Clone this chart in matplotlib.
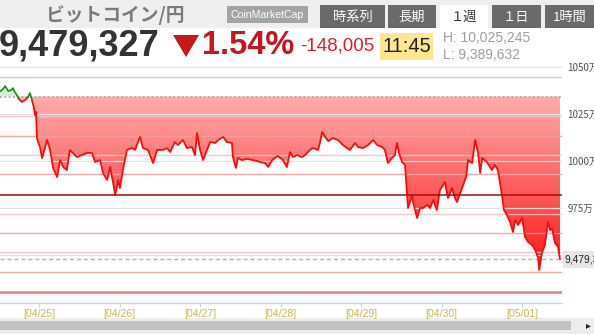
import matplotlib
matplotlib.use("Agg")
import matplotlib.pyplot as plt
import numpy as np
from matplotlib.patches import Rectangle, Polygon

# ---------------- data (price in 万円, time in hours from 04/25 00:00) ----------------
hours = [-11.6, -10.7, -10.1, -9.2, -8.3, -7.8, -7.2, -6.6, -6.0, -5.1, -4.2, -3.3, -2.7, -2.1,
         -1.5, -1.2, -0.9, -0.6, -0.3, 0.3, 0.9, 1.2, 2.4, 3.3, 4.2, 5.4, 6.3, 7.2, 8.3, 9.2,
         10.1, 11.3, 12.8, 14.3, 15.8, 16.7, 18.2, 19.1, 20.3, 21.2, 22.1, 22.7, 23.6, 24.1,
         25.0, 26.2, 27.7, 28.6, 29.5, 30.1, 31.0, 32.5, 34.0, 35.2, 37.0, 38.2, 39.1, 40.5,
         41.4, 42.9, 44.1, 45.6, 46.5, 47.1, 48.0, 48.9, 50.1, 51.0, 52.5, 53.4, 54.9, 56.0,
         57.5, 57.8, 58.7, 59.3, 60.5, 62.0, 63.8, 65.9, 67.4, 68.3, 69.5, 71.2, 72.7, 73.9,
         74.8, 75.7, 76.9, 78.4, 79.3, 80.8, 81.7, 83.2, 83.8, 84.4, 85.3, 86.2, 87.6, 89.1,
         90.6, 91.8, 92.7, 94.2, 95.1, 96.6, 98.1, 99.6, 100.8, 102.3, 103.1, 104.0, 105.2,
         106.1, 106.7, 107.3, 108.2, 109.1, 109.7, 110.0, 111.2, 111.5, 112.7, 113.6, 114.5,
         115.7, 116.6, 117.5, 118.6, 119.5, 121.0, 121.9, 123.1, 124.0, 124.6, 126.1, 127.3,
         127.9, 129.1, 130.0, 130.9, 131.5, 132.1, 133.5, 135.0, 135.9, 136.8, 138.0, 138.6,
         139.5, 140.4, 141.3, 141.9, 142.8, 144.0, 144.9, 145.8, 147.0, 147.9, 148.8, 149.1,
         149.9, 150.8, 151.7, 152.3, 152.9, 153.8, 154.7, 155.3]
price = [1037.0, 1038.3, 1039.9, 1037.2, 1037.8, 1038.8, 1036.7, 1035.1, 1033.0, 1031.4, 1032.4,
         1034.0, 1036.2, 1032.4, 1028.2, 1024.5, 1026.1, 1012.2, 1010.1, 1007.4, 1001.6, 1003.2,
         1011.2, 1005.9, 996.3, 991.5, 1000.5, 996.8, 995.2, 1005.9, 1004.3, 1002.1, 1003.2,
         1004.3, 1004.3, 999.5, 1000.5, 993.6, 989.9, 996.8, 988.3, 981.9, 989.9, 985.6, 995.2,
         1005.9, 1006.9, 1005.9, 1010.1, 1012.8, 1006.9, 1005.9, 998.9, 1005.9, 1005.9, 1006.9,
         1004.8, 1010.1, 1008.5, 1011.2, 1006.9, 1007.4, 1003.2, 1014.9, 1005.9, 1000.5, 1005.9,
         1010.1, 1009.6, 1011.2, 1012.8, 1010.1, 1009.6, 1002.1, 996.3, 1001.6, 1000.5, 1001.1,
         1000.5, 999.5, 998.9, 996.8, 1000.5, 1002.7, 1000.5, 996.8, 1004.8, 1002.1, 1003.2,
         1002.1, 1003.2, 1005.9, 1006.9, 1005.9, 1010.1, 1015.4, 1012.8, 1010.6, 1012.2, 1011.2,
         1008.5, 1006.9, 1005.9, 1009.6, 1007.4, 1006.9, 1008.5, 1011.2, 1008.5, 1007.4, 1005.9,
         998.9, 1001.6, 1003.2, 1009.6, 1004.3, 999.5, 997.9, 983.0, 975.0, 981.9, 978.2, 969.7,
         975.0, 975.0, 976.6, 975.0, 979.3, 973.9, 984.6, 988.8, 980.3, 985.6, 980.3, 978.2,
         985.6, 991.5, 1000.5, 998.9, 1011.2, 1004.3, 993.6, 1001.6, 999.5, 995.2, 997.9, 995.2,
         981.9, 973.9, 971.3, 967.6, 962.2, 968.6, 966.0, 969.7, 959.6, 956.9, 955.3, 952.7,
         948.4, 942.0, 951.1, 955.3, 967.6, 963.3, 964.4, 956.4, 954.3, 947.9]

baseline = 1034.3
current = 947.9327
green_level = 1044.7
dark_level = 981.9
level_lines = [1023.9, 1013.3, 1003.2, 993.1, 971.8, 961.7, 951.6, 941.0]
red_level = 930.3
grid_ticks = [1050, 1025, 1000, 975, 950]
ytick_labels = ["1050万", "1025万", "1000万", "975万", ""]
day_ticks = [0, 24, 48, 72, 96, 120, 144]
day_labels = ["[04/25]", "[04/26]", "[04/27]", "[04/28]", "[04/29]", "[04/30]", "[05/01]"]

title = "ビットコイン/円"
price_text = "9,479,327"
change_pct = "1.54%"
change_abs = "-148,005"
time_text = "11:45"
high_text = "H: 10,025,245"
low_text = "L: 9,389,632"
tabs = ["時系列", "長期", "１週", "１日", "1時間"]

# ---------------- figure ----------------
W, H = 594, 334
fig = plt.figure(figsize=(W / 100, H / 100), dpi=100)
fig.patch.set_facecolor("white")

def fx(x):
    return x / W

def fy(y):
    return 1 - y / H

JP = ["Noto Sans CJK JP", "DejaVu Sans"]
AR = ["Liberation Sans", "DejaVu Sans"]

# top bar
fig.patches.append(Rectangle((0, fy(28)), 1, 28 / H, transform=fig.transFigure,
                             facecolor="#efefef", edgecolor="none", zorder=0))
fig.text(fx(115), fy(15), title, family=JP, fontsize=13.5, color="#7b7b7b",
         ha="center", va="center", weight="bold")
fig.patches.append(Rectangle((fx(227), fy(23)), 81 / W, 17 / H, transform=fig.transFigure,
                             facecolor="#a4a4a4", edgecolor="none"))
fig.text(fx(267.5), fy(14.5), "CoinMarketCap", family=AR, fontsize=7.6, color="white",
         ha="center", va="center")
tab_pos = [(320, 385), (388, 436), (440, 488), (492, 541), (545, 594)]
for (x0, x1), tb in zip(tab_pos, tabs):
    sel = tb == "１週"
    fig.patches.append(Rectangle((fx(x0), fy(28)), (x1 - x0) / W, 23 / H, transform=fig.transFigure,
                                 facecolor="white" if sel else "#6a6a6a", edgecolor="none"))
    fig.text(fx((x0 + x1) / 2), fy(17), tb, family=JP, fontsize=9.5,
             color="#333333" if sel else "white", ha="center", va="center")

# price row
fig.text(fx(-1), fy(46), price_text, family=AR, fontsize=26, weight="bold", color="#333333",
         ha="left", va="center")
fig.patches.append(Polygon([(fx(173), fy(35)), (fx(199), fy(35)), (fx(186), fy(57))],
                           closed=True, transform=fig.transFigure,
                           facecolor="#c8161d", edgecolor="none"))
fig.text(fx(202), fy(46), change_pct, family=AR, fontsize=23.5, weight="bold", color="#c8161d",
         ha="left", va="center")
fig.text(fx(300), fy(46), change_abs, family=AR, fontsize=13.5, color="#d9232b",
         ha="left", va="center")
fig.patches.append(Rectangle((fx(380), fy(60)), 53 / W, 27 / H, transform=fig.transFigure,
                             facecolor="#fbe78f", edgecolor="none"))
fig.text(fx(406.5), fy(46.5), time_text, family=AR, fontsize=14.5, color="#222222",
         ha="center", va="center")
fig.text(fx(443), fy(38), high_text, family=AR, fontsize=10, color="#a0a0a0", ha="left", va="center")
fig.text(fx(443), fy(55), low_text, family=AR, fontsize=10, color="#a0a0a0", ha="left", va="center")

# scrollbar
fig.patches.append(Rectangle((0, 0), 1, 16 / H, transform=fig.transFigure,
                             facecolor="#ededed", edgecolor="none", zorder=0))
fig.patches.append(Rectangle((0, fy(330)), fx(571), 9 / H, transform=fig.transFigure,
                             facecolor="#c2c2c2", edgecolor="none", zorder=1))
fig.text(fx(588), fy(325.5), "▸", family=["DejaVu Sans"], fontsize=7, color="#222222",
         ha="center", va="center")

# ---------------- chart ----------------
ax = fig.add_axes([0, fy(303), fx(562), (303 - 62) / H])
ax.set_zorder(3)
ax.set_xlim(-11.63, 155.9)
ax.set_ylim(924.47, 1052.66)
ax.set_facecolor("none")
for s in ax.spines.values():
    s.set_visible(False)

t = np.array(hours)
p = np.array(price)

# gradient fill below baseline
below = np.minimum(p, baseline)
verts = [(t[0], baseline)] + list(zip(t, below)) + [(t[-1], baseline)]
poly = Polygon(verts, closed=True, facecolor="none", edgecolor="none")
ax.add_patch(poly)
grad = np.linspace(0, 1, 256).reshape(-1, 1)
top_c = np.array([255, 172, 172]) / 255
bot_c = np.array([255, 22, 22]) / 255
img = top_c[None, None, :] * (1 - grad[:, :, None]) + bot_c[None, None, :] * grad[:, :, None]
im = ax.imshow(img, extent=[t[0], t[-1] + 0.6, 942.0, baseline], aspect="auto",
               origin="upper", zorder=1)
im.set_clip_path(poly)

# green fill above baseline
ax.fill_between(t, baseline, p, where=p >= baseline, interpolate=True,
                color="#d6ecd6", zorder=1, lw=0)

# horizontal levels
for g in grid_ticks:
    ax.axhline(g, color="#e4e4e4", lw=0.9, zorder=2)
for i, lv in enumerate(level_lines):
    ax.axhline(lv, color="#f2a0a0" if i % 2 else "#f9c4c4", lw=1.0, zorder=2, alpha=0.9)
ax.axhline(green_level, color="#b9d9b9", lw=1.0, zorder=2)
ax.axhline(red_level, color="#f27c7c", lw=1.8, zorder=2)
ax.axhline(baseline, color="#a9a9a9", lw=1.3, ls=(0, (1, 1.4)), zorder=3)
ax.axhline(current, color="#b4b4c8", lw=1.0, ls=(0, (3, 2)), zorder=3)

# price line: red below baseline, green above
ax.plot(t, np.ma.masked_where(p > baseline + 0.01, p), color="#ff0a0a", lw=1.3, zorder=4)
idx_g = [i for i in range(len(p)) if p[i] >= baseline or (i > 0 and p[i - 1] >= baseline)
         or (i < len(p) - 1 and p[i + 1] >= baseline)]
gm = np.ma.masked_all(len(p))
for i in idx_g:
    gm[i] = p[i]
ax.plot(t, gm, color="#1f8a1f", lw=1.2, zorder=5)

ax.axhline(dark_level, color="#a30d0d", lw=1.1, zorder=6)

# axes ticks
ax.yaxis.tick_right()
ax.set_yticks(grid_ticks)
ax.set_yticklabels(ytick_labels, family=JP, fontsize=7.0, color="#555555")
ax.tick_params(axis="y", length=0, pad=4)
ax.set_xticks(day_ticks)
ax.set_xticklabels(day_labels, family=AR, fontsize=7.6, color="#cbb652")
ax.tick_params(axis="x", length=3, color="#c9d3e3", pad=1, direction="out")
ax.spines["bottom"].set_visible(True)
ax.spines["bottom"].set_color("#c9d3e3")
ax.spines["bottom"].set_linewidth(1.0)

# current price label at right
fig.patches.append(Rectangle((fx(563), fy(268)), 40 / W, 17 / H, transform=fig.transFigure,
                             facecolor="#e6e6e6", edgecolor="none", zorder=5))
fig.text(fx(564.5), fy(259.5), "9,479,327", family=AR, fontsize=7.4, color="#222222",
         ha="left", va="center", zorder=6)

fig.savefig("out.png", dpi=100)
